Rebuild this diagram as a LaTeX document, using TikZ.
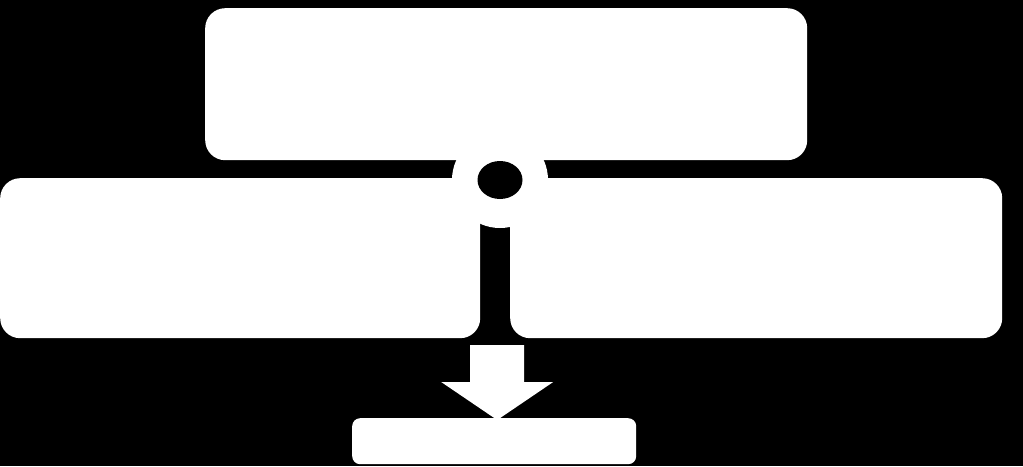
\documentclass[tikz,border=0pt]{standalone}
\usetikzlibrary{calc,shapes.geometric}
\begin{document}
\begin{tikzpicture}[x=1pt,y=-1pt,
  box/.style={fill=white, draw=none, rounded corners=20pt, inner sep=0pt, anchor=north west},
  smallbox/.style={box, rounded corners=8pt}]
\fill[black] (0,0) rectangle (1023,466);
\useasboundingbox (0,0) rectangle (1023,466);
\node[box, minimum width=602pt, minimum height=152pt] (top) at (205,8) {};
\node[box, minimum width=480pt, minimum height=160pt] (left) at (0,178) {};
\node[box, minimum width=492pt, minimum height=160pt] (right) at (510,178) {};
\node[smallbox, minimum width=284pt, minimum height=46pt] (bottom) at (352,418) {};
\node[circle, fill=white, inner sep=0pt, minimum size=96pt] (hub) at (500,180) {};
\node[ellipse, fill=black, inner sep=0pt, minimum width=45pt, minimum height=38pt] (hole) at (hub) {};
\coordinate (tip) at ($(bottom.north)+(3,2)$);
\fill[white] ($(tip)+(-27,-75)$) -- ($(tip)+(27,-75)$) -- ($(tip)+(27,-38)$) -- ($(tip)+(56,-38)$) -- (tip) -- ($(tip)+(-56,-38)$) -- ($(tip)+(-27,-38)$) -- cycle;
\end{tikzpicture}
\end{document}
